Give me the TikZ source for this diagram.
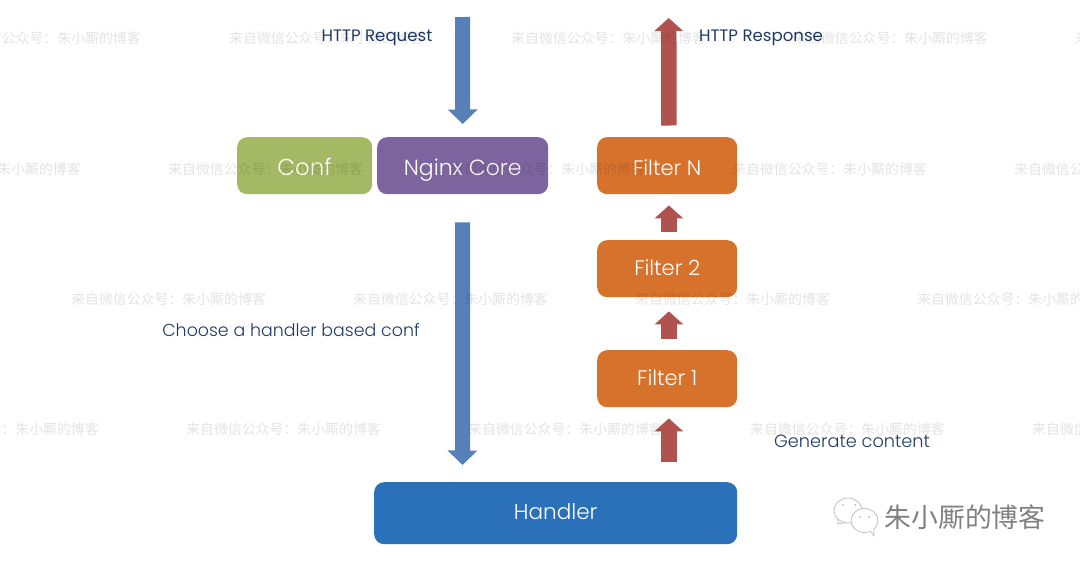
\documentclass[tikz,border=0pt]{standalone}
\usepackage{fontspec}
\usepackage{tikz}
\usetikzlibrary{arrows.meta,positioning}
\setmainfont{Poppins Light}
\newfontfamily\cjk{Noto Sans CJK SC}
\definecolor{confgreen}{HTML}{A3B964}
\definecolor{corepurple}{HTML}{7E649E}
\definecolor{filterorange}{HTML}{D7722C}
\definecolor{handlerblue}{HTML}{2A71BA}
\definecolor{reqblue}{HTML}{5680B8}
\definecolor{respred}{HTML}{B0534F}
\definecolor{labelblue}{HTML}{1F3A66}
\tikzset{
    box/.style={rounded corners=10pt, text=white, font=\fontsize{22}{22}\selectfont, inner sep=0pt, anchor=north west, text depth=0pt},
    filterbox/.style={box, fill=filterorange, font=\fontsize{21}{21}\selectfont, minimum width=140pt, minimum height=57pt},
    lbl/.style={text=labelblue, font=\fontsize{17.4}{17.4}\selectfont, inner sep=0pt},
    boldlbl/.style={lbl, font=\fontsize{16.6}{16.6}\selectfont\fontspec{Poppins}},
    bluearrow/.style={draw=reqblue, line width=15pt, -{Triangle[width=29pt,length=14.5pt]}},
    redarrow/.style={draw=respred, line width=15.5pt, -{Triangle[width=28pt,length=13pt]}},
    mark text/.style={text=black, opacity=.11, font=\cjk\fontsize{13.9}{13.9}\selectfont, inner sep=0pt, anchor=west},
    logoline/.style={draw=gray!55, line width=.7pt},
}
\begin{document}
\begin{tikzpicture}[x=1pt,y=-1pt]
    \useasboundingbox (0,0) rectangle (1080,565);
    \clip (0,0) rectangle (1080,565);

    % Boxes
    \node[box, fill=confgreen, minimum width=135pt, minimum height=57pt, text height=19pt, font=\fontsize{23}{23}\selectfont] (conf) at (237,137) {Conf};
    \node[box, fill=corepurple, minimum width=171pt, minimum height=57pt, text height=19pt] (core) at (377,137) {Nginx Core};
    \node[filterbox, text height=19pt] (filterN) at (597,137) {Filter N};
    \node[filterbox, text height=14pt] (filter2) at (597,240) {Filter 2};
    \node[filterbox, text height=13pt] (filter1) at (597,350) {Filter 1};
    \node[box, fill=handlerblue, minimum width=363pt, minimum height=62pt, text height=12pt, font=\fontsize{21.6}{21.6}\selectfont] (handler) at (374,482) {Handler};

    % Free ends
    \coordinate (reqstart) at (462.5,17);
    \coordinate (choosetip) at (462.5,465);
    \coordinate (resptip) at (668.7,18);

    % Blue arrows
    \draw[bluearrow] (reqstart) -- ([yshift=13pt]core.north);
    \draw[bluearrow] ([yshift=-28pt]core.south) -- (choosetip);

    % Red arrows
    \draw[redarrow] ([xshift=1.7pt,yshift=11.5pt]filterN.north) -- (resptip);
    \draw[redarrow] ([xshift=1.7pt,yshift=8pt]filter2.north) -- ([xshift=1.7pt,yshift=-11pt]filterN.south);
    \draw[redarrow] ([xshift=1.7pt,yshift=11pt]filter1.north) -- ([xshift=1.7pt,yshift=-14pt]filter2.south);
    \draw[redarrow] ([xshift=1.7pt,yshift=20pt]handler.north -| filter1.south) -- ([xshift=1.7pt,yshift=-11pt]filter1.south);

    % Labels
    \node[boldlbl] (request) at (377,38) {HTTP Request};
    \node[boldlbl] (response) at (761,38) {HTTP Response};
    \node[lbl] (choose) at (291,330) {Choose a handler based conf};
    \node[lbl, font=\fontsize{17.7}{17.7}\selectfont] (generate) at (852,441) {Generate content};

    % Watermarks
    \foreach \x/\y in {-54/38,229/38,511/38,793/38,1075/38,
                       -114/169,168/169,450/169,732/169,1014/169,
                       71/299,353/299,635/299,917/299,
                       -96/429,186/429,468/429,750/429,1032/429}
        \node[mark text] (wm\x) at (\x,\y) {来自微信公众号：朱小厮的博客};

    % Logo
    \draw[logoline] (848,510.5) circle (14pt and 12.5pt);
    \draw[logoline] (838,519) -- (838,524) -- (845,522.5);
    \draw[logoline, fill=white] (864.5,520.5) circle (13.5pt and 12pt);
    \draw[logoline, fill=white] (870,531) -- (874,536) -- (874,528);
    \fill[gray!55] (843,505) circle (1pt) (855,505) circle (1pt) (860,517) circle (1pt) (869,517) circle (1pt);
    \node[text=gray, font=\cjk\fontsize{26.8}{26.8}\selectfont, inner sep=0pt] (logo) at (965,517) {朱小厮的博客};
\end{tikzpicture}
\end{document}
